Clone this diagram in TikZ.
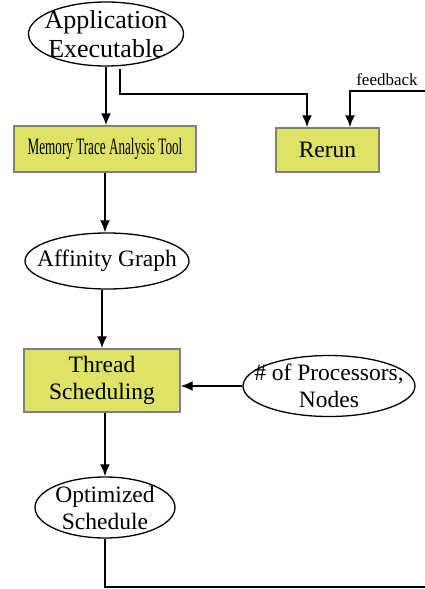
\documentclass[tikz,border=0pt]{standalone}
\usepackage{fontspec}
\setmainfont{Liberation Serif}
\usepackage{xcolor}
\usepackage{tikz}
\usetikzlibrary{shapes.geometric, arrows.meta}
\definecolor{stagefill}{RGB}{222,226,102}

\begin{document}
\begin{tikzpicture}[
    x=1pt, y=-1pt,
    every node/.style={font=\fontsize{23.5}{27}\selectfont, align=center},
    stage/.style={draw=gray, fill=stagefill, line width=1.4pt, inner sep=0pt},
    oval/.style={draw, ellipse, line width=1.3pt, inner sep=0pt},
    flow/.style={-{Latex[length=12pt, width=10pt]}, line width=2pt}
]
\useasboundingbox (0,0) rectangle (425,589);

\node[oval, minimum width=155pt, minimum height=64pt,
      label={[font=\fontsize{26}{29}\selectfont]center:Application\\Executable}] (app) at (106,34) {};
\node[stage, minimum width=182pt, minimum height=46pt] (mem) at (105,149)
    {\scalebox{0.56}[1]{Memory Trace Analysis Tool}};
\node[stage, minimum width=103pt, minimum height=44pt] (rerun) at (327.5,150) {Rerun};
\node[font=\fontsize{17}{20}\selectfont, anchor=base] (fbtext) at (387,85) {feedback};
\coordinate (fbin) at (425,90.5);
\node[oval, minimum width=164pt, minimum height=56pt,
      label={center:Affinity Graph}] (aff) at (107,261) {};
\node[stage, minimum width=156pt, minimum height=63pt] (sched) at (102,380.5) {Thread\\Scheduling};
\node[oval, minimum width=172pt, minimum height=61pt,
      label={center:\# of Processors,\\Nodes}] (procs) at (329,386) {};
\node[oval, minimum width=140pt, minimum height=61pt,
      label={center:Optimized\\Schedule}] (opt) at (105,507.5) {};
\coordinate (out) at (425,587);

\draw[flow] (app) -- (app |- mem.north);
\draw[flow] ([xshift=14pt, yshift=-2pt]app.south) -- ++(0,25) -| ([xshift=-20.5pt]rerun.north);
\draw[flow] (fbin) -| ([xshift=22.5pt]rerun.north);
\draw[flow] (mem) -- (mem |- aff.north);
\draw[flow] (sched |- aff.south) -- (sched.north);
\draw[flow, line width=1.4pt] (procs) -- (procs -| sched.east);
\draw[flow] (opt |- sched.south) -- (opt.north);
\draw[line width=1.8pt] (opt) |- (out);
\end{tikzpicture}
\end{document}
